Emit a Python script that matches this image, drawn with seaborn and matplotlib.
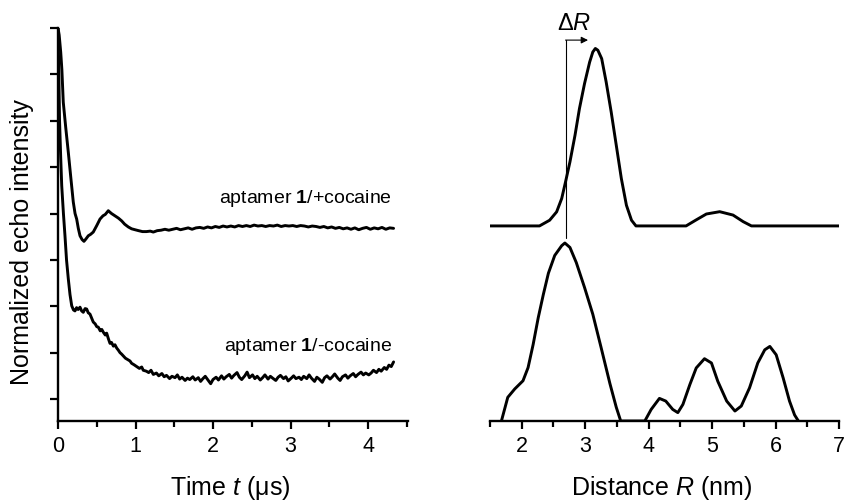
import matplotlib
matplotlib.use("Agg")
import matplotlib.pyplot as plt
import seaborn as sns
from matplotlib.ticker import MultipleLocator, NullFormatter

# ---- time-domain echo traces (time in µs, intensity in tick units) ----
t_plus = [0.000, 0.015, 0.035, 0.050, 0.068, 0.100, 0.133, 0.165, 0.197, 0.220,
          0.241, 0.262, 0.284, 0.310, 0.335, 0.360, 0.391, 0.420, 0.455, 0.500,
          0.542, 0.580, 0.610, 0.649, 0.690, 0.735, 0.780, 0.822, 0.860, 0.907,
          0.950, 0.994, 1.04, 1.09, 1.14, 1.19, 1.23, 1.28, 1.33, 1.38,
          1.43, 1.48, 1.53, 1.58, 1.63, 1.68, 1.73, 1.78, 1.83, 1.88,
          1.93, 1.98, 2.03, 2.08, 2.13, 2.18, 2.23, 2.28, 2.33, 2.38,
          2.43, 2.48, 2.53, 2.58, 2.63, 2.68, 2.73, 2.78, 2.83, 2.88,
          2.93, 2.98, 3.03, 3.08, 3.13, 3.18, 3.23, 3.28, 3.33, 3.38,
          3.43, 3.48, 3.53, 3.58, 3.63, 3.68, 3.73, 3.78, 3.83, 3.88,
          3.93, 3.98, 4.03, 4.08, 4.13, 4.18, 4.23, 4.28, 4.33]
echo_plus = [8.00, 7.85, 7.48, 7.10, 6.40, 5.85, 5.32, 4.78, 4.25, 4.00,
             3.88, 3.68, 3.52, 3.44, 3.40, 3.45, 3.52, 3.55, 3.60, 3.74,
             3.88, 3.95, 3.98, 4.06, 4.00, 3.95, 3.90, 3.84, 3.77, 3.71,
             3.67, 3.65, 3.63, 3.61, 3.61, 3.62, 3.60, 3.63, 3.64, 3.66,
             3.64, 3.66, 3.68, 3.65, 3.67, 3.69, 3.66, 3.69, 3.70, 3.68,
             3.71, 3.69, 3.72, 3.70, 3.73, 3.71, 3.73, 3.71, 3.74, 3.72,
             3.74, 3.72, 3.75, 3.73, 3.74, 3.72, 3.74, 3.73, 3.75, 3.72,
             3.74, 3.73, 3.74, 3.72, 3.74, 3.73, 3.71, 3.73, 3.72, 3.70,
             3.72, 3.69, 3.71, 3.68, 3.70, 3.67, 3.69, 3.66, 3.69, 3.65,
             3.68, 3.70, 3.66, 3.69, 3.67, 3.70, 3.66, 3.69, 3.68]

t_minus = [0.000, 0.010, 0.020, 0.035, 0.048, 0.070, 0.090, 0.110, 0.133, 0.155,
           0.177, 0.200, 0.219, 0.240, 0.260, 0.284, 0.305, 0.326, 0.350, 0.370,
           0.390, 0.413, 0.435, 0.455, 0.480, 0.500, 0.520, 0.545, 0.565, 0.585,
           0.610, 0.628, 0.650, 0.671, 0.690, 0.715, 0.735, 0.757, 0.780, 0.800,
           0.820, 0.843, 0.870, 0.900, 0.929, 0.950, 0.980, 1.015, 1.05, 1.08,
           1.10, 1.14, 1.17, 1.20, 1.23, 1.27, 1.30, 1.34, 1.37, 1.40,
           1.44, 1.47, 1.51, 1.54, 1.57, 1.60, 1.64, 1.67, 1.70, 1.74,
           1.77, 1.81, 1.84, 1.87, 1.90, 1.94, 1.97, 2.00, 2.04, 2.07,
           2.11, 2.14, 2.17, 2.21, 2.24, 2.27, 2.31, 2.34, 2.37, 2.41,
           2.44, 2.47, 2.51, 2.54, 2.57, 2.61, 2.64, 2.67, 2.71, 2.74,
           2.77, 2.81, 2.84, 2.87, 2.91, 2.94, 2.97, 3.01, 3.04, 3.07,
           3.11, 3.14, 3.17, 3.21, 3.24, 3.27, 3.31, 3.34, 3.37, 3.41,
           3.44, 3.47, 3.51, 3.54, 3.57, 3.61, 3.64, 3.67, 3.71, 3.74,
           3.77, 3.81, 3.84, 3.87, 3.91, 3.94, 3.97, 4.01, 4.04, 4.07,
           4.11, 4.14, 4.17, 4.21, 4.24, 4.27, 4.30, 4.33]
echo_minus = [8.00, 7.10, 6.00, 5.20, 4.60, 4.00, 3.52, 3.00, 2.59, 2.25,
              2.01, 1.92, 1.90, 1.97, 1.93, 1.98, 1.90, 1.87, 1.95, 1.94,
              1.86, 1.83, 1.74, 1.66, 1.62, 1.56, 1.55, 1.47, 1.50, 1.44,
              1.38, 1.42, 1.30, 1.20, 1.22, 1.14, 1.17, 1.10, 1.05, 1.00,
              0.97, 0.93, 0.88, 0.85, 0.82, 0.77, 0.74, 0.70, 0.66, 0.69,
              0.62, 0.60, 0.57, 0.62, 0.53, 0.56, 0.50, 0.55, 0.48, 0.51,
              0.44, 0.49, 0.46, 0.52, 0.43, 0.47, 0.40, 0.45, 0.42, 0.48,
              0.41, 0.46, 0.38, 0.44, 0.49, 0.40, 0.33, 0.42, 0.47, 0.41,
              0.50, 0.43, 0.48, 0.53, 0.45, 0.51, 0.57, 0.47, 0.42, 0.50,
              0.58, 0.46, 0.52, 0.44, 0.49, 0.41, 0.46, 0.52, 0.43, 0.49,
              0.45, 0.40, 0.47, 0.51, 0.44, 0.48, 0.39, 0.45, 0.50, 0.44,
              0.47, 0.42, 0.49, 0.44, 0.52, 0.45, 0.38, 0.47, 0.43, 0.36,
              0.46, 0.50, 0.43, 0.48, 0.54, 0.45, 0.40, 0.48, 0.52, 0.45,
              0.50, 0.55, 0.48, 0.53, 0.58, 0.52, 0.56, 0.52, 0.56, 0.62,
              0.57, 0.64, 0.60, 0.68, 0.64, 0.73, 0.70, 0.80]

# ---- distance distributions (R in nm, peak-normalised probability) ----
r_plus = [1.50, 2.28, 2.44, 2.55, 2.63, 2.69, 2.76, 2.84, 2.91, 2.99,
          3.07, 3.12, 3.16, 3.20, 3.26, 3.33, 3.41, 3.49, 3.57, 3.65,
          3.73, 3.80, 4.59, 4.75, 4.91, 5.12, 5.33, 5.49, 5.62, 7.00]
p_plus = [0.000, 0.000, 0.032, 0.079, 0.154, 0.247, 0.360, 0.510, 0.660, 0.800,
          0.920, 0.977, 0.997, 0.987, 0.940, 0.810, 0.640, 0.453, 0.266, 0.116,
          0.032, 0.000, 0.000, 0.034, 0.067, 0.080, 0.061, 0.024, 0.000, 0.000]

r_minus = [1.68, 1.78, 1.89, 2.02, 2.10, 2.18, 2.26, 2.34, 2.42, 2.52,
           2.63, 2.68, 2.76, 2.86, 2.99, 3.12, 3.25, 3.39, 3.49, 3.56,
           3.94, 4.04, 4.17, 4.27, 4.38, 4.46, 4.54, 4.65, 4.75, 4.88,
           4.99, 5.09, 5.23, 5.36, 5.46, 5.59, 5.72, 5.83, 5.91, 6.01,
           6.12, 6.22, 6.30, 6.36]
p_minus = [0.000, 0.133, 0.180, 0.226, 0.300, 0.430, 0.580, 0.710, 0.830, 0.930,
           0.985, 1.000, 0.975, 0.890, 0.750, 0.600, 0.414, 0.210, 0.077, 0.000,
           0.000, 0.065, 0.127, 0.112, 0.065, 0.047, 0.093, 0.205, 0.298, 0.350,
           0.326, 0.223, 0.112, 0.056, 0.084, 0.186, 0.326, 0.400, 0.419, 0.372,
           0.242, 0.112, 0.034, 0.000]

time_ticks = [0, 1, 2, 3, 4]
dist_ticks = [2, 3, 4, 5, 6, 7]
upper_offset = 1.096        # vertical shift of the +cocaine distribution
peak_shift = (2.69, 3.045)  # distance maxima marked by the ΔR arrow

sns.set_theme(style="ticks")
plt.rcParams["font.family"] = ["Liberation Sans", "DejaVu Sans"]
plt.rcParams["mathtext.fontset"] = "custom"
plt.rcParams["mathtext.rm"] = "Liberation Sans"
plt.rcParams["mathtext.it"] = "Liberation Sans:italic"
plt.rcParams["mathtext.bf"] = "Liberation Sans:bold"
for key in ("text.color", "axes.labelcolor", "xtick.color", "ytick.color",
            "axes.edgecolor"):
    plt.rcParams[key] = "black"

W, H = 847, 502
fig = plt.figure(figsize=(W / 100, H / 100), dpi=100)
fig.patch.set_facecolor("white")


def box(l, t, r, b):
    return [l / W, 1 - b / H, (r - l) / W, (b - t) / H]


ax1 = fig.add_axes(box(58, 29, 408, 422))
ax2 = fig.add_axes(box(490, 29, 839, 422))

lw = 2.1
line_kw = dict(color="black", lw=lw, estimator=None,
               solid_joinstyle="round", solid_capstyle="round")

# left: echo decay traces
sns.lineplot(x=t_plus, y=echo_plus, ax=ax1, **line_kw)
sns.lineplot(x=t_minus, y=echo_minus, ax=ax1, **line_kw)
ax1.set_xlim(0, 4.516)
ax1.set_ylim(-0.474, 8.0)
ax1.set_xticks(time_ticks)
ax1.xaxis.set_minor_locator(MultipleLocator(0.5))
ax1.set_yticks(range(0, 9))
ax1.yaxis.set_major_formatter(NullFormatter())
for s in ("top", "right"):
    ax1.spines[s].set_visible(False)
for s in ("left", "bottom"):
    ax1.spines[s].set_linewidth(1.7)
ax1.tick_params(axis="both", which="major", direction="out", length=6, width=1.6,
                labelsize=15.5, pad=4)
ax1.tick_params(axis="x", which="minor", direction="out", length=4, width=1.6)
ax1.text(4.31, 4.35, r"aptamer $\mathbf{1}$/+cocaine", ha="right", va="center",
         fontsize=14)
ax1.text(4.31, 1.15, r"aptamer $\mathbf{1}$/-cocaine", ha="right", va="center",
         fontsize=14)

# right: distance distributions
sns.lineplot(x=r_plus, y=[p + upper_offset for p in p_plus], ax=ax2, **line_kw)
sns.lineplot(x=r_minus, y=p_minus, ax=ax2, **line_kw)
ax2.set_xlim(1.5, 7.0)
ax2.set_ylim(0, 2.208)
ax2.set_xticks(dist_ticks)
ax2.xaxis.set_minor_locator(MultipleLocator(0.5))
ax2.set_yticks([])
for s in ("top", "right", "left"):
    ax2.spines[s].set_visible(False)
ax2.spines["bottom"].set_linewidth(1.7)
ax2.tick_params(axis="x", which="major", direction="out", length=6, width=1.6,
                labelsize=15.5, pad=4)
ax2.tick_params(axis="x", which="minor", direction="out", length=4, width=1.6)

# ΔR marker between the two maxima
ax2.plot([peak_shift[0], peak_shift[0]], [1.03, 2.14], color="black", lw=0.8)
ax2.annotate("", xy=(peak_shift[1], 2.14), xytext=(peak_shift[0], 2.14),
             arrowprops=dict(arrowstyle="-|>", color="black", lw=0.8,
                             mutation_scale=10, shrinkA=0, shrinkB=0),
             annotation_clip=False)
ax2.text(2.83, 2.236, r"Δ$R$", ha="center", va="center", fontsize=17,
         clip_on=False)

# axis titles
fig.text(21.7 / W, 1 - 242 / H, "Normalized echo intensity", rotation=90,
         ha="center", va="center", fontsize=18)
fig.text(230 / W, 1 - 488 / H, r"Time $t$ (μs)", ha="center", va="center",
         fontsize=18)
fig.text(662 / W, 1 - 488 / H, r"Distance $R$ (nm)", ha="center", va="center",
         fontsize=18)

fig.savefig("out.png", dpi=100, facecolor="white")
